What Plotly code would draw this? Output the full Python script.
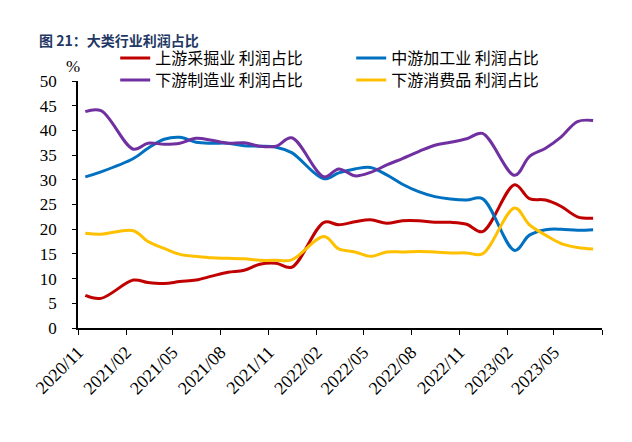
import plotly.graph_objects as go

months = ["2020-11", "2020-12",
          "2021-02", "2021-03", "2021-04", "2021-05", "2021-06", "2021-07",
          "2021-08", "2021-09", "2021-10", "2021-11", "2021-12",
          "2022-02", "2022-03", "2022-04", "2022-05", "2022-06", "2022-07",
          "2022-08", "2022-09", "2022-10", "2022-11", "2022-12",
          "2023-02", "2023-03", "2023-04", "2023-05", "2023-06", "2023-07"]

upstream = [6.6, 6.0,
            9.7, 9.2, 9.0, 9.4, 9.7, 10.5, 11.3, 11.7, 12.9, 13.1, 12.3,
            21.4, 20.9, 21.5, 21.9, 21.2, 21.7, 21.7, 21.4, 21.4, 21.0, 19.5,
            29.0, 26.2, 25.9, 24.6, 22.5, 22.2]
midstream = [30.6, 31.6,
             34.3, 36.4, 38.2, 38.6, 37.6, 37.4, 37.4, 36.9, 36.8, 36.6, 35.5,
             30.2, 31.4, 32.2, 32.5, 31.0, 29.1, 27.6, 26.6, 26.1, 25.9, 26.2,
             15.7, 18.8, 19.9, 20.0, 19.8, 19.9]
downstream_mfg = [43.8, 44.0,
                  36.2, 37.4, 37.2, 37.4, 38.4, 38.0, 37.4, 37.5, 36.8, 36.8, 38.5,
                  30.6, 32.2, 30.8, 31.5, 33.0, 34.3, 35.7, 37.0, 37.6, 38.3, 39.4,
                  30.9, 34.7, 36.4, 38.7, 41.8, 42.0]
downstream_cons = [19.2, 19.0,
                   19.7, 17.5, 16.1, 14.9, 14.5, 14.2, 14.1, 14.0, 13.7, 13.7, 13.8,
                   18.5, 16.0, 15.4, 14.5, 15.4, 15.4, 15.5, 15.4, 15.2, 15.2, 15.0,
                   24.3, 20.9, 18.8, 17.1, 16.3, 16.0]

series_names = ["上游采掘业 利润占比", "中游加工业 利润占比",
                "下游制造业 利润占比", "下游消费品 利润占比"]
series_values = [upstream, midstream, downstream_mfg, downstream_cons]
colors = ["#C00000", "#0070C0", "#7030A0", "#FFC000"]
legend_rows = ["legend", "legend", "legend2", "legend2"]

tick_labels = ["2020/11", "2021/02", "2021/05", "2021/08", "2021/11", "2022/02",
               "2022/05", "2022/08", "2022/11", "2023/02", "2023/05", ""]
tick_dates = ["2020-11-01", "2021-02-01", "2021-05-01", "2021-08-01", "2021-11-01",
              "2022-02-01", "2022-05-01", "2022-08-01", "2022-11-01", "2023-02-01",
              "2023-05-01", "2023-08-01"]

x_dates = [m + "-15" for m in months]

fig = go.Figure()
for name, vals, c, lg in zip(series_names, series_values, colors, legend_rows):
    fig.add_trace(go.Scatter(x=x_dates, y=vals, name=name, mode="lines", legend=lg,
                             line=dict(color=c, width=3, shape="spline", smoothing=1)))

serif = "Liberation Serif"
cjk = "Noto Sans CJK SC"

legend_common = dict(orientation="h", xanchor="left", yanchor="middle",
                     entrywidth=191, entrywidthmode="pixels",
                     font=dict(family=cjk, size=16, color="black"),
                     itemwidth=30, bgcolor="rgba(0,0,0,0)")

fig.update_layout(
    width=632, height=442,
    margin=dict(l=78, r=30, t=81, b=114, autoexpand=False),
    paper_bgcolor="white", plot_bgcolor="white",
    showlegend=True,
    legend=dict(x=0.071, y=(328 - 58) / 247, **legend_common),
    legend2=dict(x=0.071, y=(328 - 80) / 247, **legend_common),
    xaxis=dict(type="date", range=["2020-11-01", "2023-08-01"],
               tickmode="array", tickvals=tick_dates, ticktext=tick_labels,
               tickangle=-45, ticks="outside", ticklen=5, tickcolor="black",
               showline=True, linecolor="black", linewidth=1.5,
               showgrid=False, zeroline=False,
               tickfont=dict(family=serif, size=18, color="black")),
    yaxis=dict(range=[0, 50], tickmode="linear", tick0=0, dtick=5,
               ticks="outside", ticklen=4, tickcolor="black",
               showline=True, linecolor="black", linewidth=1.5,
               showgrid=False, zeroline=False, ticklabelstandoff=12,
               tickfont=dict(family=serif, size=17, color="black")),
    annotations=[
        dict(text="<b>图 21：大类行业利润占比</b>", xref="paper", yref="paper",
             x=(37 - 78) / 524, y=(328 - 40) / 247, xanchor="left", yanchor="middle",
             showarrow=False,
             font=dict(family=cjk, size=14, color="#1F3864")),
        dict(text="%", xref="paper", yref="paper", x=(73 - 78) / 524, y=(328 - 66) / 247,
             xanchor="center", yanchor="middle", showarrow=False,
             font=dict(family=serif, size=17, color="black")),
    ],
)

fig.write_html("out.html", config={"displayModeBar": False},
               post_script="document.body.style.margin='0';")
